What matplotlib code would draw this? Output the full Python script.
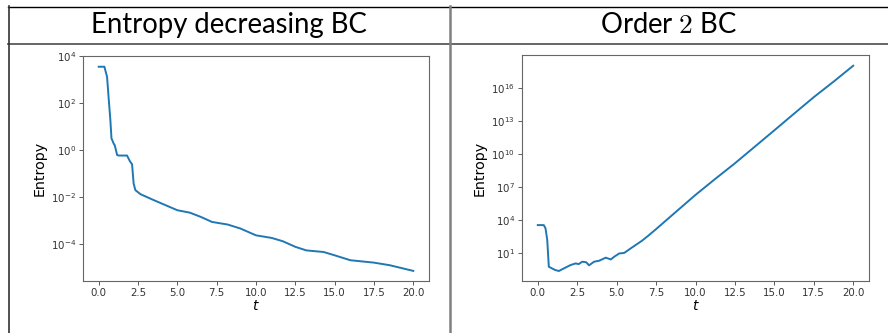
import numpy as np
import matplotlib
matplotlib.use("Agg")
import matplotlib.pyplot as plt
from matplotlib.lines import Line2D
from matplotlib.ticker import NullLocator

# data
titles = ["Entropy decreasing BC", "Order $2$ BC"]

t_left = [0.0, 0.36, 0.53, 0.64, 0.74, 0.81, 0.95, 1.02, 1.17, 1.27, 1.8, 1.97,
          2.12, 2.22, 2.33, 2.65, 3.39, 4.0, 5.0, 5.8, 6.5, 7.2, 8.2, 9.0, 10.0,
          11.0, 11.7, 12.5, 13.2, 14.3, 15.0, 16.0, 17.5, 18.5, 20.0]
entropy_left = [3.5e3, 3.5e3, 1.3e3, 1.35e2, 1.9e1, 3.2, 1.9, 1.6, 0.62, 0.59,
                0.59, 0.35, 0.25, 3.8e-2, 2.0e-2, 1.35e-2, 8.1e-3, 5.4e-3,
                2.8e-3, 2.2e-3, 1.45e-3, 8.9e-4, 6.9e-4, 4.7e-4, 2.4e-4,
                1.86e-4, 1.35e-4, 7.8e-5, 5.5e-5, 4.7e-5, 3.4e-5, 2.1e-5,
                1.66e-5, 1.29e-5, 7.4e-6]

t_right = [0.0, 0.38, 0.49, 0.6, 0.7, 0.9, 1.1, 1.34, 1.66, 2.08, 2.4, 2.6, 2.82,
           3.07, 3.25, 3.57, 3.89, 4.31, 4.63, 4.84, 5.16, 5.48, 5.9, 6.6, 7.0,
           7.5, 8.5, 10.0, 11.25, 12.5, 13.75, 15.0, 16.25, 17.5, 18.75, 20.0]
entropy_right = [3.7e3, 3.7e3, 1.9e3, 1.7e2, 0.63, 0.45, 0.32, 0.26, 0.45, 0.9,
                 1.26, 1.1, 1.8, 1.6, 0.85, 1.8, 2.2, 4.2, 2.9, 5.0, 10.0, 11.2,
                 29.5, 1.4e2, 4.0e2, 1.6e3, 2.8e4, 2.0e6, 5.6e7, 1.45e9,
                 4.5e10, 1.4e12, 4.5e13, 1.4e15, 3.5e16, 9.8e17]

W, H = 888, 333
fig = plt.figure(figsize=(W / 100, H / 100), dpi=100)
fig.patch.set_facecolor("white")


def px_axes(x0, y0, x1, y1):
    return fig.add_axes([x0 / W, 1 - y1 / H, (x1 - x0) / W, (y1 - y0) / H])


def px_line(xs, ys, **kw):
    fig.add_artist(Line2D([x / W for x in xs], [1 - y / H for y in ys],
                          transform=fig.transFigure, **kw))


# table frame
px_line([8, 888], [6.5, 6.5], color="black", lw=1.0)
px_line([8, 888], [43.5, 43.5], color="0.35", lw=1.3)
px_line([8.5, 8.5], [6, 333], color="0.2", lw=1.2)
px_line([450, 450], [6, 333], color="0.5", lw=1.8)

fig.text(229 / W, 1 - 25 / H, titles[0], ha="center", va="center",
         fontsize=19.8, family="Lato")
fig.text(669 / W, 1 - 25 / H, titles[1], ha="center", va="center",
         fontsize=19.8, family="Lato", math_fontfamily="cm")

panels = [
    ((83, 56, 429, 281), t_left, entropy_left, (10 ** -5.56, 10 ** 4.0),
     [1e4, 1e2, 1e0, 1e-2, 1e-4]),
    ((522, 55, 869, 281), t_right, entropy_right, (10 ** -1.49, 10 ** 18.96),
     [1e1, 1e4, 1e7, 1e10, 1e13, 1e16]),
]

for box, t, s, ylim, yticks in panels:
    ax = px_axes(*box)
    ax.plot(t, s, color="#1f77b4", lw=1.4)
    ax.set_yscale("log")
    ax.set_ylim(*ylim)
    ax.set_xlim(-1, 21)
    ax.set_yticks(yticks)
    ax.yaxis.set_minor_locator(NullLocator())
    ax.set_xticks([0, 2.5, 5, 7.5, 10, 12.5, 15, 17.5, 20])
    ax.set_xticklabels(["0.0", "2.5", "5.0", "7.5", "10.0", "12.5", "15.0",
                        "17.5", "20.0"])
    ax.tick_params(labelsize=7.4, length=2.6, width=0.6, color="0.25",
                   labelcolor="0.2", pad=2.5)
    for sp in ax.spines.values():
        sp.set_color("0.4")
        sp.set_linewidth(0.8)
    ax.set_xlabel("$t$", fontsize=10, labelpad=1)
    ax.set_ylabel("Entropy", fontsize=10.3, labelpad=3)

fig.savefig("out.png", dpi=100, facecolor="white")
